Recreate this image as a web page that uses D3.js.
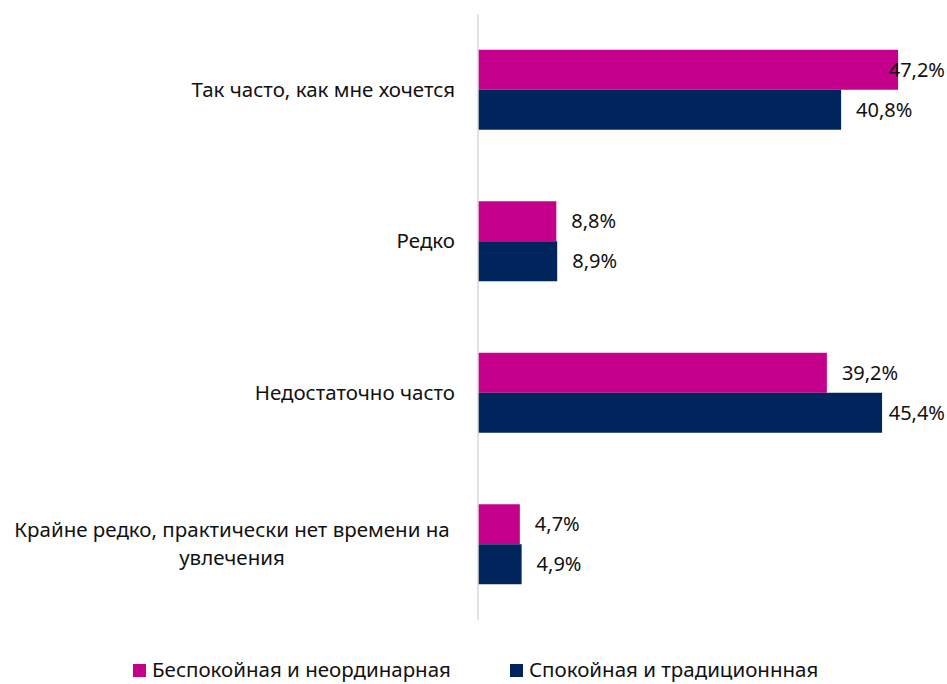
<!DOCTYPE html>
<html>
<head>
<meta charset="utf-8">
<script src="https://cdn.jsdelivr.net/npm/d3@7"></script>
<style>
  html, body { margin: 0; padding: 0; background: #fff; }
  svg { display: block; font-family: "Noto Sans", "Open Sans", sans-serif; }
</style>
</head>
<body>
<div id="chart"></div>
<script>
const categories = [
  "Так часто, как мне хочется",
  "Редко",
  "Недостаточно часто",
  "Крайне редко, практически нет времени на|увлечения"
];
const seriesNames = ["Беспокойная и неординарная", "Спокойная и традиционнная"];
const restless = [47.2, 8.8, 39.2, 4.7];
const calm = [40.8, 8.9, 45.4, 4.9];
const colors = ["#c5008c", "#00245c"];

const width = 947;
const height = 684;

const svg = d3.select("#chart")
  .append("svg")
  .attr("width", width)
  .attr("height", height);

const x = d3.scaleLinear().domain([0, 50]).range([478, 923]);
const y = d3.scaleBand()
  .domain(categories)
  .range([14, 620])
  .paddingInner(0.472)
  .paddingOuter(0.236);
const ySub = d3.scaleBand().domain(seriesNames).range([0, y.bandwidth()]);

const series = [restless, calm];
const fmt = v => d3.format(".1f")(v).replace(".", ",") + "%";

// barres
series.forEach((vals, s) => {
  const g = svg.append("g");
  g.selectAll("rect")
    .data(vals)
    .join("rect")
    .attr("x", x(0))
    .attr("y", (d, i) => y(categories[i]) + ySub(seriesNames[s]))
    .attr("width", d => x(d) - x(0))
    .attr("height", ySub.bandwidth())
    .attr("fill", colors[s]);

  g.selectAll("text")
    .data(vals)
    .join("text")
    .attr("y", (d, i) => y(categories[i]) + ySub(seriesNames[s]) + ySub.bandwidth() / 2)
    .attr("dy", "0.35em")
    .attr("font-size", 20)
    .attr("fill", "#111")
    .text(d => fmt(d))
    .attr("x", function (d) {
      const w = this.getComputedTextLength();
      return Math.min(x(d) + 15, width - 2 - w);
    });
});

// axe vertical
svg.append("line")
  .attr("x1", x(0)).attr("x2", x(0))
  .attr("y1", 14).attr("y2", 620)
  .attr("stroke", "#d9d9d9")
  .attr("stroke-width", 1.5);

// étiquettes des catégories
categories.forEach(c => {
  const lines = c.split("|");
  const cy = y(c) + y.bandwidth() / 2;
  const t = svg.append("text")
    .attr("font-size", 20.5)
    .attr("fill", "#111");
  if (lines.length === 1) {
    t.attr("x", 455).attr("y", cy).attr("dy", "0.35em")
      .attr("text-anchor", "end").text(c);
  } else {
    t.attr("text-anchor", "middle");
    lines.forEach((l, i) => {
      t.append("tspan")
        .attr("x", 232)
        .attr("y", cy + (i - (lines.length - 1) / 2) * 28)
        .attr("dy", "0.35em")
        .text(l);
    });
  }
});

// légende
const legendX = [133, 510];
const legend = svg.append("g");
seriesNames.forEach((n, i) => {
  legend.append("rect")
    .attr("x", legendX[i]).attr("y", 664)
    .attr("width", 13).attr("height", 13)
    .attr("fill", colors[i]);
  legend.append("text")
    .attr("x", legendX[i] + 19).attr("y", 670)
    .attr("dy", "0.35em")
    .attr("font-size", 20.5)
    .attr("fill", "#111")
    .text(n);
});
</script>
</body>
</html>
